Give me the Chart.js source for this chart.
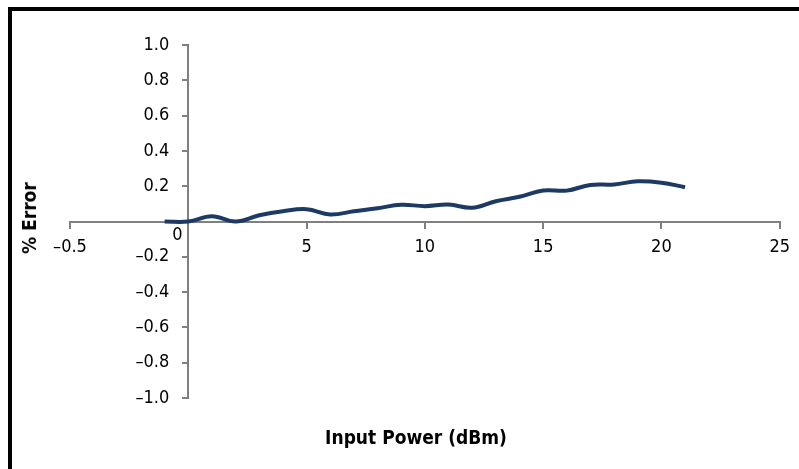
<!DOCTYPE html>
<html>
<head>
<meta charset="utf-8">
<script src="https://cdn.jsdelivr.net/npm/chart.js@4"></script>
<style>
  body { margin: 0; background: #fff; }
  #wrap { position: relative; width: 799px; height: 469px; overflow: hidden; }
  #frame { position: absolute; left: 8px; top: 7px; width: 800px; height: 480px;
           border-top: 4px solid #000; border-left: 4px solid #000; }
  canvas { position: absolute; left: 0; top: 0; }
  .title { position: absolute; font-family: "Liberation Sans Narrow", "DejaVu Sans Condensed", sans-serif;
           font-weight: bold; font-size: 19px; color: #000; white-space: nowrap; }
  #xtitle { left: 416px; top: 437px; transform: translate(-50%, -50%); }
  #ytitle { left: 29px; top: 218px; transform: translate(-50%, -50%) rotate(-90deg); }
</style>
</head>
<body>
<div id="wrap">
  <div id="frame"></div>
  <canvas id="chart" width="799" height="469"></canvas>
  <div class="title" id="xtitle">Input Power (dBm)</div>
  <div class="title" id="ytitle">% Error</div>
</div>
<script>
var powerDbm = [-1, 0, 1, 2, 3, 4, 5, 6, 7, 8, 9, 10, 11, 12, 13, 14, 15, 16, 17, 18, 19, 20, 21];
var errorPct = [0.0, 0.0, 0.03, 0.0, 0.035, 0.058, 0.07, 0.04, 0.058, 0.075, 0.095, 0.087, 0.096, 0.078,
                0.115, 0.14, 0.176, 0.175, 0.207, 0.21, 0.228, 0.22, 0.194];
var xTickLabels = {"-5": "\u20130.5", "0": "", "5": "5", "10": "10", "15": "15", "20": "20", "25": "25"};

var labelFont = "'Liberation Sans Narrow', 'DejaVu Sans Condensed', sans-serif";

function yLabel(v) {
  if (Math.abs(v) < 1e-9) return '';
  var s = Math.abs(v).toFixed(1);
  return v < 0 ? '\u2013' + s : s;
}

// Chart.js puts labels of a centred y axis right on the axis line,
// so they are drawn here, left of the tick marks, plus the "0" of the x axis
var axisLabels = {
  id: 'axisLabels',
  afterDraw: function(chart) {
    var ctx = chart.ctx;
    var xs = chart.scales.x, ys = chart.scales.y;
    var x0 = xs.getPixelForValue(0);
    var y0 = ys.getPixelForValue(0);
    ctx.save();
    ctx.font = '18px ' + labelFont;
    ctx.fillStyle = '#000';
    ctx.textAlign = 'right';
    ctx.textBaseline = 'middle';
    ys.ticks.forEach(function(t) {
      ctx.fillText(yLabel(t.value), x0 - 19, ys.getPixelForValue(t.value));
    });
    ctx.textAlign = 'center';
    ctx.fillText('0', x0 - 11, y0 + 14);
    ctx.restore();
  }
};

var points = powerDbm.map(function(p, i) { return {x: p, y: errorPct[i]}; });

new Chart(document.getElementById('chart'), {
  type: 'line',
  data: {
    datasets: [{
      data: points,
      borderColor: '#1c3a63',
      borderWidth: 4,
      pointRadius: 0,
      tension: 0.4,
      fill: false
    }]
  },
  options: {
    responsive: false,
    animation: false,
    layout: { padding: { left: 70, right: 19, top: 45, bottom: 71 } },
    plugins: { legend: { display: false }, tooltip: { enabled: false } },
    scales: {
      x: {
        type: 'linear',
        position: { y: 0 },
        min: -5, max: 25,
        border: { color: '#808080', width: 2 },
        grid: { drawOnChartArea: false, color: '#808080', tickLength: 6, lineWidth: 2 },
        ticks: {
          stepSize: 5,
          padding: 9,
          color: '#000',
          font: { family: labelFont, size: 18 },
          maxRotation: 0,
          callback: function(v) { return xTickLabels[String(v)]; }
        }
      },
      y: {
        type: 'linear',
        position: { x: 0 },
        min: -1, max: 1,
        border: { color: '#808080', width: 2 },
        grid: { drawOnChartArea: false, color: '#808080', tickLength: 5, lineWidth: 2 },
        ticks: {
          stepSize: 0.2,
          color: 'rgba(0,0,0,0)',
          font: { family: labelFont, size: 18 },
          callback: yLabel
        }
      }
    }
  },
  plugins: [axisLabels]
});
</script>
</body>
</html>
